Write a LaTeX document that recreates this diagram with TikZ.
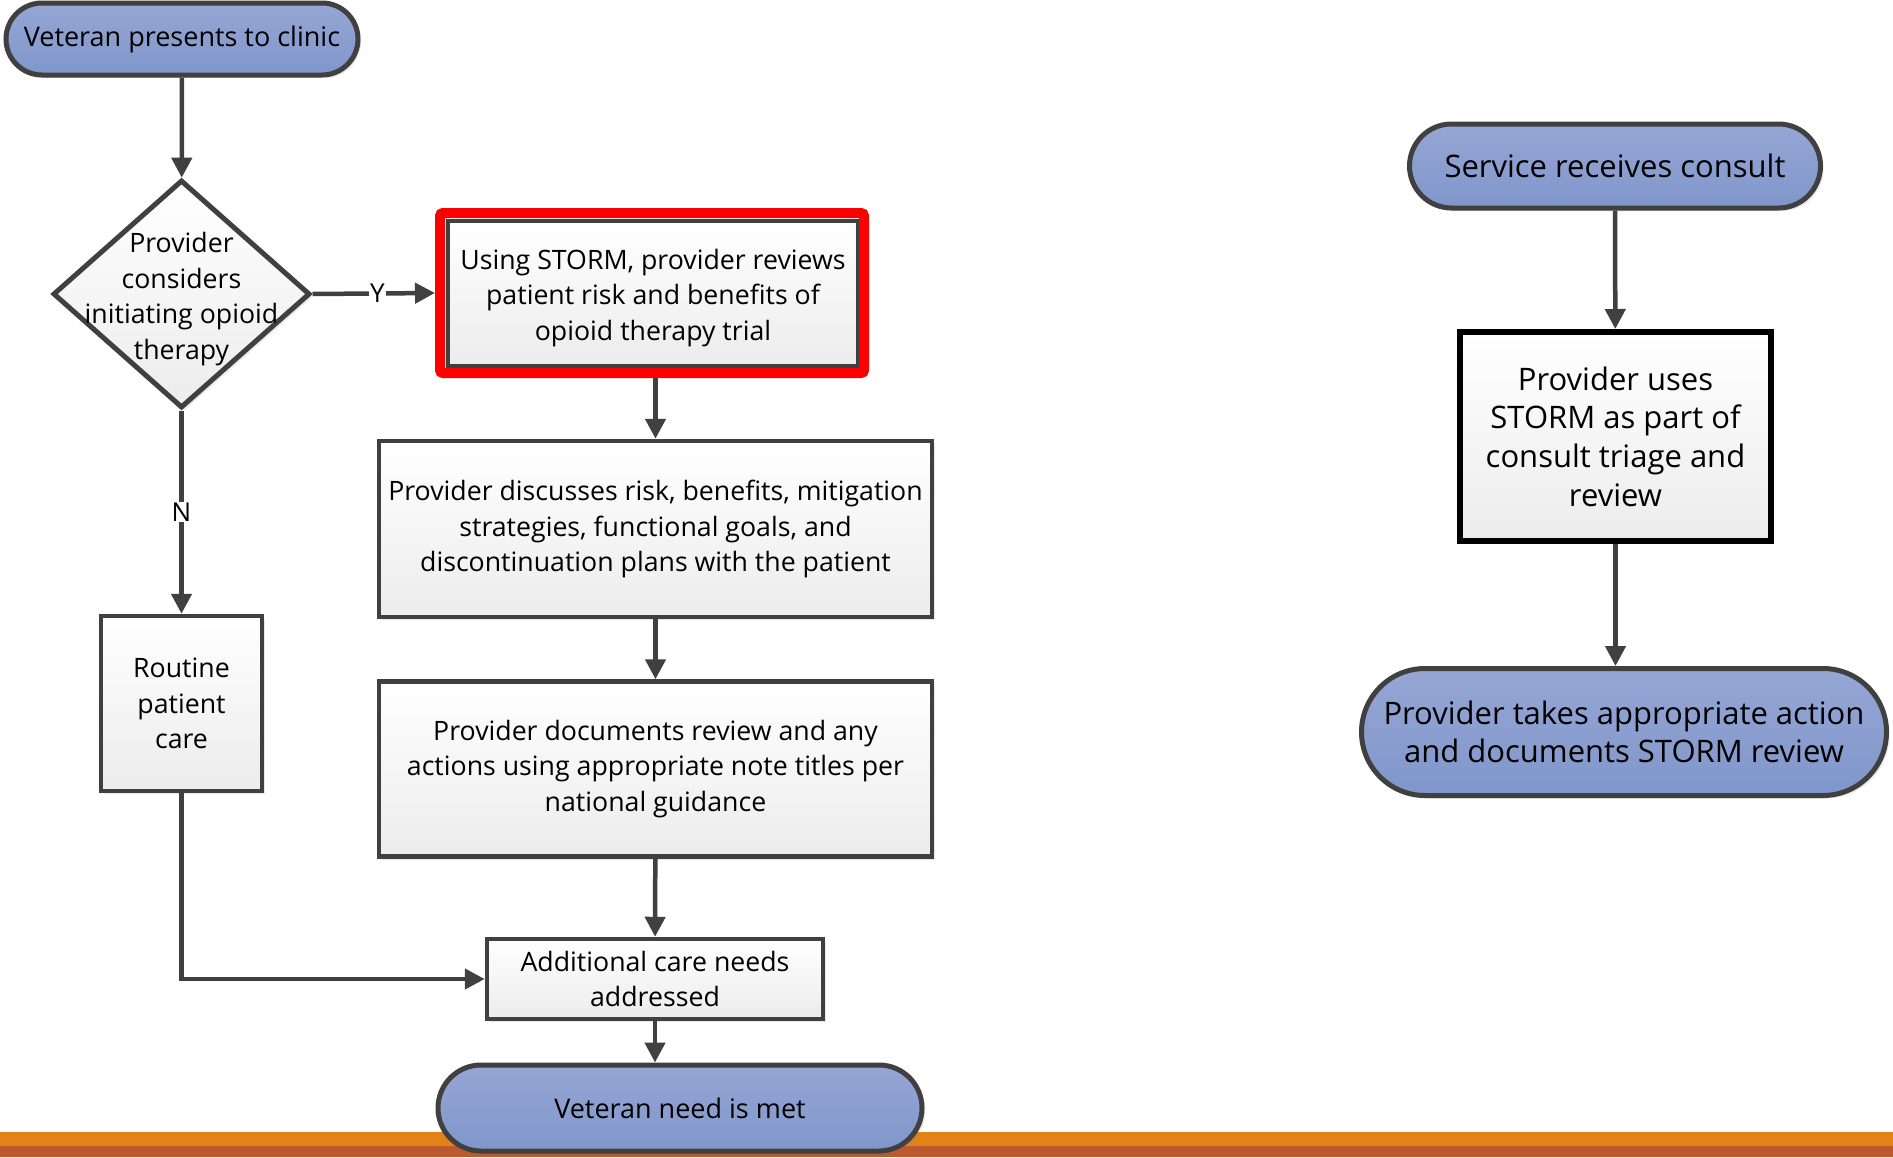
\documentclass[tikz,border=0pt]{standalone}
\usepackage{fontspec}
\setmainfont{Open Sans}
\usetikzlibrary{shapes.geometric,shapes.misc,arrows.meta,shadows}
\definecolor{edgegray}{RGB}{64,64,64}
\definecolor{bluetop}{RGB}{150,166,213}
\definecolor{bluebot}{RGB}{128,150,202}
\definecolor{boxbot}{RGB}{236,236,236}
\definecolor{stripA}{RGB}{227,130,22}
\definecolor{stripB}{RGB}{190,88,45}
\tikzset{
  term/.style={rounded rectangle, draw=edgegray, line width=5pt, top color=bluetop, bottom color=bluebot,
    drop shadow={opacity=0.18, shadow xshift=3pt, shadow yshift=-3pt}, inner sep=0pt, align=center},
  procbox/.style={rectangle, draw=edgegray, line width=4.5pt, top color=white, bottom color=boxbot,
    drop shadow={opacity=0.18, shadow xshift=3pt, shadow yshift=-3pt}, inner sep=0pt, align=center},
  decision/.style={diamond, draw=edgegray, line width=5pt, top color=white, bottom color=boxbot,
    drop shadow={opacity=0.18, shadow xshift=3pt, shadow yshift=-3pt}, inner sep=0pt},
  conn/.style={draw=edgegray, line width=4.5pt, -{Triangle[length=20pt,width=20pt]}},
  lbl/.style={fill=white, inner sep=1pt, font=\fontsize{26}{28}\selectfont},
  fa/.style={font=\fontsize{26.7}{35.6}\selectfont},
  fb/.style={font=\fontsize{27}{38.6}\selectfont},
  fc/.style={font=\fontsize{31}{38.6}\selectfont},
}
\begin{document}
\begin{tikzpicture}[x=1pt,y=-1pt]
\useasboundingbox (0,0) rectangle (1893,1157);
\fill[white] (0,0) rectangle (1893,1157);
% bottom strip
\fill[stripA] (0,1132) rectangle (1893,1146);
\fill[stripB] (0,1146) rectangle (1893,1157);

% left flow
\node[term, fb, minimum width=352pt, minimum height=72pt] (start) at (182,39) {Veteran presents to clinic};
\node[decision, minimum width=257pt, minimum height=228pt] (dec) at (181.5,294) {};
\node[fa, align=center, inner sep=0pt] (dectxt) at (181.5,299) {Provider\\considers\\initiating opioid\\therapy};

\node[procbox, minimum width=410pt, minimum height=145pt] (storm) at (653,293.5) {};
\node[fa, align=center, inner sep=0pt] (stormtxt) at (653,298) {Using STORM, provider reviews\\patient risk and benefits of\\opioid therapy trial};
\node[rectangle, draw=red, line width=10pt, rounded corners=3pt, minimum width=424pt, minimum height=160pt] (stormframe) at (652,293) {};

\node[procbox, fa, minimum width=553pt, minimum height=176pt] (disc) at (655.5,529) {Provider discusses risk, benefits, mitigation\\strategies, functional goals, and\\discontinuation plans with the patient};
\node[procbox, fa, minimum width=553pt, minimum height=175pt] (docs) at (655.5,769) {Provider documents review and any\\actions using appropriate note titles per\\national guidance};
\node[procbox, fa, minimum width=336pt, minimum height=80pt] (addl) at (655,979) {Additional care needs\\addressed};
\node[procbox, fa, minimum width=161pt, minimum height=175pt] (routine) at (181.5,703.5) {Routine\\patient\\care};
\node[term, fb, minimum width=484pt, minimum height=86pt] (met) at (680,1108) {Veteran need is met};

% right flow
\node[term, fc, minimum width=411pt, minimum height=84pt] (svc) at (1615,166) {Service receives consult};
\node[procbox, fc, draw=black, line width=6pt, minimum width=311pt, minimum height=209pt] (uses) at (1615.5,436.5) {Provider uses\\STORM as part of\\consult triage and\\review};
\node[term, fc, minimum width=525pt, minimum height=127pt] (takes) at (1624,732) {Provider takes appropriate action\\and documents STORM review};

% connectors
\draw[conn] (start) -- (dec);
\draw[conn] (dec.east) -- node[lbl, pos=0.53] (ylab) {Y} (stormframe.west);
\draw[conn] (dec.south) -- node[lbl, pos=0.5] (nlab) {N} (routine.north);
\draw[conn] (stormframe.south -| disc.north) -- (disc.north);
\draw[conn] (disc) -- (docs);
\draw[conn] (docs) -- (addl);
\draw[conn] (routine.south) |- (addl.west);
\draw[conn] (addl.south) -- (addl.south |- met.north);
\draw[conn] (svc) -- (uses);
\draw[conn] (uses.south) -- (uses.south |- takes.north);
\end{tikzpicture}
\end{document}
